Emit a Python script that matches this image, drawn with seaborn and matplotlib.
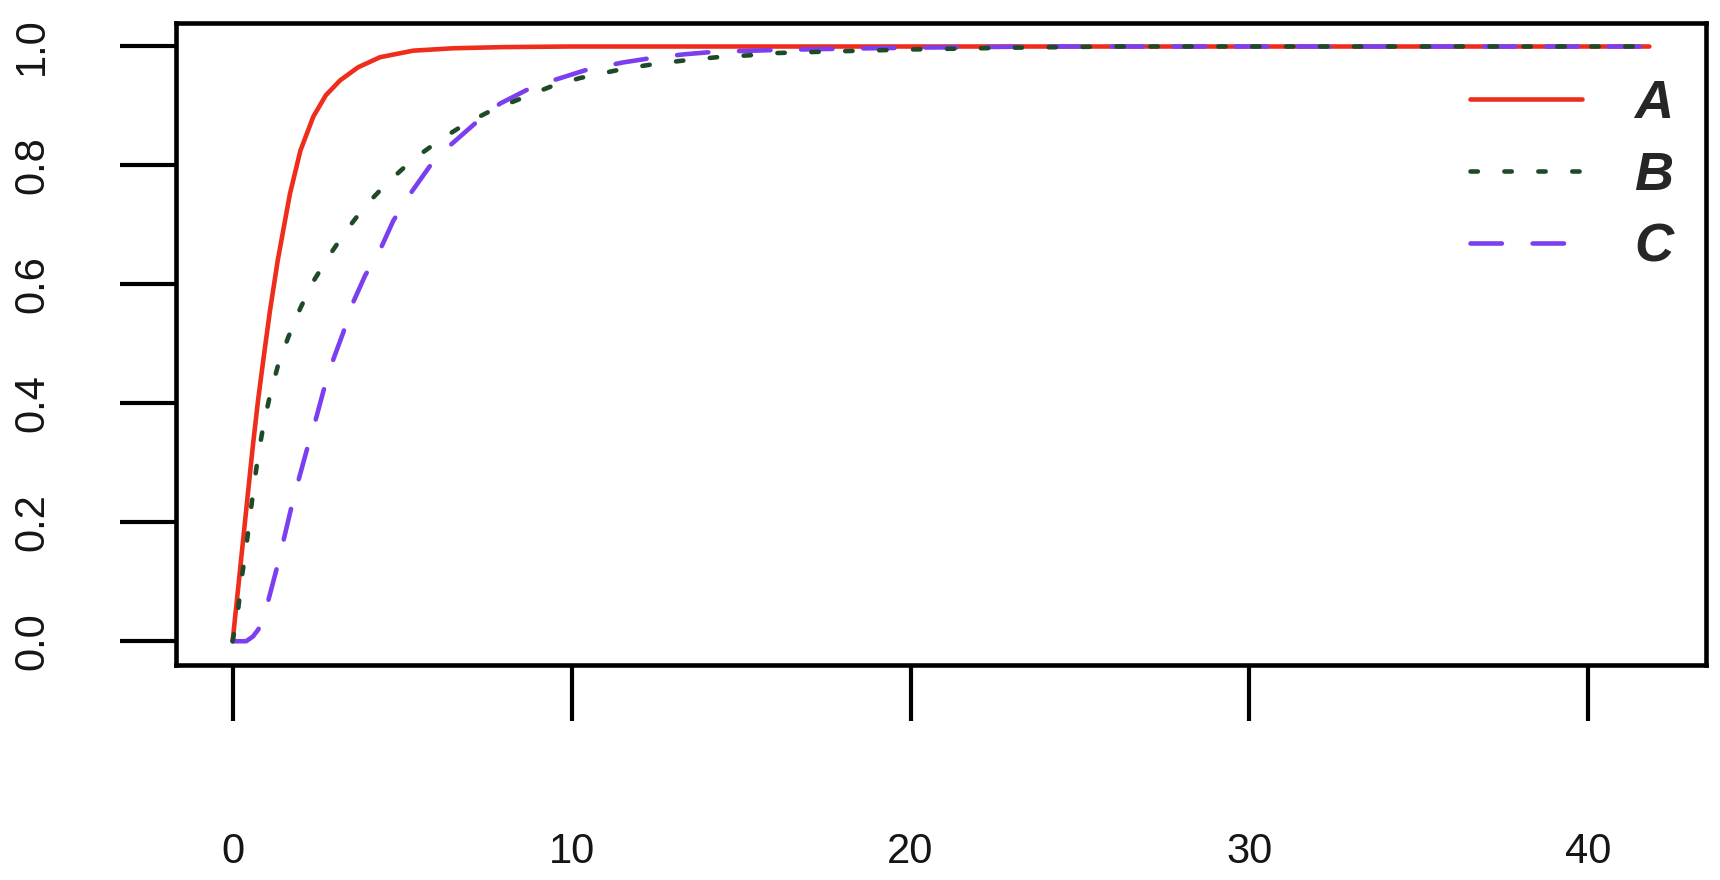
import numpy as np
import pandas as pd
import matplotlib
matplotlib.use('Agg')
import matplotlib.pyplot as plt
import seaborn as sns
from matplotlib.lines import Line2D

# curves (x, cumulative value)
a_x = [0, 0.15, 0.3, 0.49, 0.6, 0.75, 0.91, 1.1, 1.33, 1.69, 2.0, 2.38, 2.75, 3.17,
       3.7, 4.35, 5.33, 6.5, 8, 10, 14, 20, 41.8]
a_y = [0, 0.082, 0.165, 0.27, 0.33, 0.405, 0.475, 0.555, 0.64, 0.752, 0.825, 0.882,
       0.918, 0.943, 0.965, 0.982, 0.993, 0.997, 0.999, 1.0, 1.0, 1.0, 1.0]

b_x = [0, 0.17, 0.27, 0.40, 0.51, 0.63, 0.76, 0.91, 1.10, 1.33, 1.64, 1.99, 2.38, 2.87,
       3.37, 3.93, 4.55, 5.3, 6.12, 6.9, 7.69, 8.53, 9.36, 10.25, 11.5, 12.5, 13.4,
       14.3, 15.2, 16.05, 17.9, 20, 23, 26, 41.8]
b_y = [0, 0.057, 0.107, 0.158, 0.208, 0.262, 0.315, 0.363, 0.413, 0.462, 0.511, 0.559,
       0.605, 0.65, 0.692, 0.733, 0.770, 0.809, 0.843, 0.871, 0.894, 0.913, 0.932, 0.947,
       0.962, 0.971, 0.977, 0.982, 0.985, 0.989, 0.992, 0.995, 0.998, 1.0, 1.0]

c_x = [0, 0.4, 0.6, 0.76, 1.05, 1.3, 1.5, 1.72, 1.94, 2.19, 2.43, 2.68, 2.92, 3.27, 3.51,
       3.91, 4.35, 4.74, 5.2, 5.87, 6.46, 7.2, 7.89, 8.68, 9.51, 10.4, 11.5, 12.4, 13.35,
       14.2, 15.95, 17.7, 20, 24, 41.8]
c_y = [0, 0, 0.008, 0.02, 0.068, 0.122, 0.169, 0.222, 0.27, 0.322, 0.368, 0.421, 0.466,
       0.52, 0.564, 0.615, 0.658, 0.707, 0.749, 0.803, 0.836, 0.873, 0.904, 0.927, 0.944,
       0.960, 0.973, 0.981, 0.987, 0.991, 0.994, 0.996, 0.998, 1.0, 1.0]

series = ['A', 'B', 'C']
x_ticks = [0, 10, 20, 30, 40]
y_ticks = [0.0, 0.2, 0.4, 0.6, 0.8, 1.0]

colors = {'A': '#ef2d1c', 'B': '#1f4a28', 'C': '#7c3ff0'}
dashes = {'A': '', 'B': (1.6, 5.8), 'C': (6.85, 6.7)}
lw = 3.3

df = pd.concat([
    pd.DataFrame({'x': a_x, 'y': a_y, 'serie': 'A'}),
    pd.DataFrame({'x': c_x, 'y': c_y, 'serie': 'C'}),
    pd.DataFrame({'x': b_x, 'y': b_y, 'serie': 'B'}),
], ignore_index=True)

sns.set_theme(style='white')
plt.rcParams['font.family'] = ['Liberation Sans', 'DejaVu Sans']

fig = plt.figure(figsize=(17.2, 8.8), dpi=100)
ax = fig.add_axes([0.1023, 0.2443, 0.9919 - 0.1023, 0.9742 - 0.2443])

sns.lineplot(data=df, x='x', y='y', hue='serie', style='serie',
             hue_order=['A', 'C', 'B'], palette=colors, dashes=dashes,
             linewidth=lw, sort=False, estimator=None, legend=False, ax=ax,
             dash_capstyle='round', solid_capstyle='round')

xmax = max(a_x)
ax.set_xlim(-0.04 * xmax, xmax * 1.04)
ax.set_ylim(-0.04, 1.04)
ax.set_xticks(x_ticks)
ax.set_yticks(y_ticks)
ax.set_yticklabels([f'{v:.1f}' for v in y_ticks], rotation=90, va='center')
ax.set_xlabel('')
ax.set_ylabel('')

for s in ax.spines.values():
    s.set_visible(True)
    s.set_color('black')
    s.set_linewidth(3.3)

ax.tick_params(axis='both', direction='out', length=40, width=3.0, color='black',
               labelsize=30, labelcolor='#151515')
ax.tick_params(axis='x', pad=80, bottom=True)
ax.tick_params(axis='y', pad=49, left=True)

handles = []
for s in series:
    h = Line2D([], [], color=colors[s], linewidth=lw,
               dash_capstyle='round', solid_capstyle='round')
    if dashes[s]:
        h.set_dashes(dashes[s])
    handles.append(h)

ax.legend(handles, series, loc='upper left', bbox_to_anchor=(0.8547, 0.91),
          bbox_transform=fig.transFigure, frameon=False, borderpad=0,
          borderaxespad=0, handlelength=2.07, handletextpad=0.96, labelspacing=0.4,
          prop={'size': 39, 'weight': 'bold', 'style': 'italic'})

plt.savefig('out.png', dpi=100)
